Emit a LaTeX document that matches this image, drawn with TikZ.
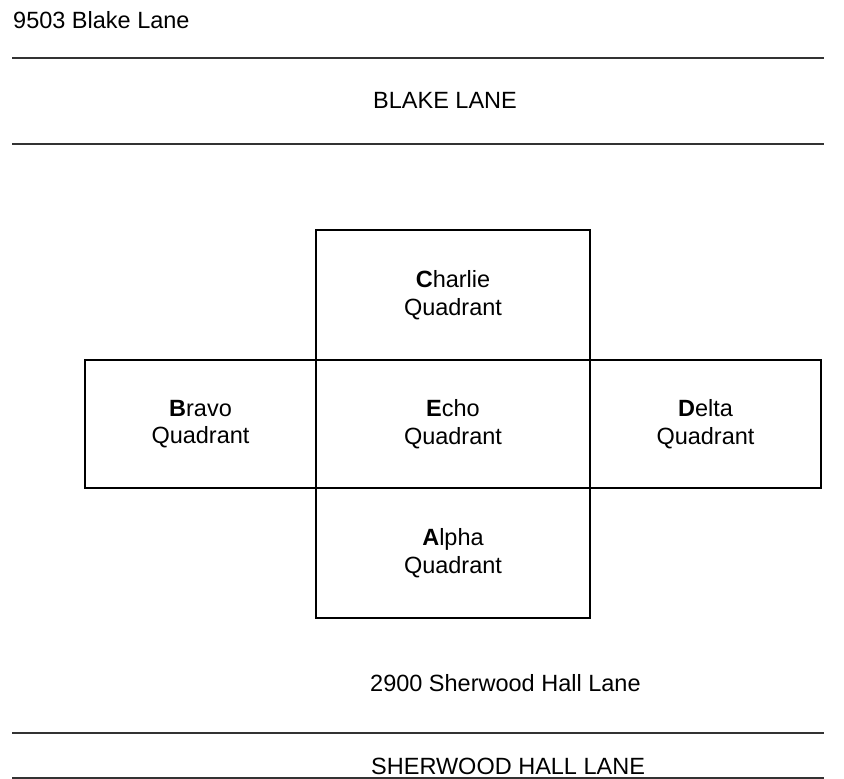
\documentclass[tikz,border=0pt]{standalone}
\usepackage{fontspec}
\setmainfont{Liberation Sans}
\begin{document}
\begin{tikzpicture}[x=1pt,y=-1pt,
  road/.style={line width=1.8pt, draw=black!80},
  lbl/.style={inner sep=0pt, anchor=base west, font=\fontsize{23.5}{27}\selectfont},
  quad/.style={draw, line width=1.2pt, inner sep=0pt, align=center,
    font=\fontsize{23.5}{27.5}\selectfont},
  wide/.style={minimum width=274pt},
  narrow/.style={minimum width=231pt}]
\useasboundingbox (0,0) rectangle (844,779);
% roads
\coordinate (t1a) at (12,58); \coordinate (t1b) at (824,58);
\coordinate (t2a) at (12,144); \coordinate (t2b) at (824,144);
\coordinate (b1a) at (12,733); \coordinate (b1b) at (824,733);
\coordinate (b2a) at (12,778); \coordinate (b2b) at (824,778);
\draw[road] (t1a) -- (t1b);
\draw[road] (t2a) -- (t2b);
\draw[road] (b1a) -- (b1b);
\draw[road] (b2a) -- (b2b);
% labels
\node[lbl] (addr1) at (13,28) {9503 Blake Lane};
\node[lbl] (blake) at (373,108.5) {BLAKE LANE};
\node[lbl] (addr2) at (370,691.5) {2900 Sherwood Hall Lane};
\node[lbl] (sher) at (371,774) {SHERWOOD HALL LANE};
% quadrants
\node[quad, wide, minimum height=130pt] (charlie) at (453,295) {\textbf{C}harlie\\Quadrant};
\node[quad, wide, minimum height=128pt] (echo) at (453,424) {\textbf{E}cho\\Quadrant};
\node[quad, narrow, minimum height=128pt] (bravo) at (200.5,424) {\textbf{B}ravo\\Quadrant};
\node[quad, narrow, minimum height=128pt] (delta) at (705.5,424) {\textbf{D}elta\\Quadrant};
\node[quad, wide, minimum height=130pt] (alpha) at (453,553) {\textbf{A}lpha\\Quadrant};
\end{tikzpicture}
\end{document}
